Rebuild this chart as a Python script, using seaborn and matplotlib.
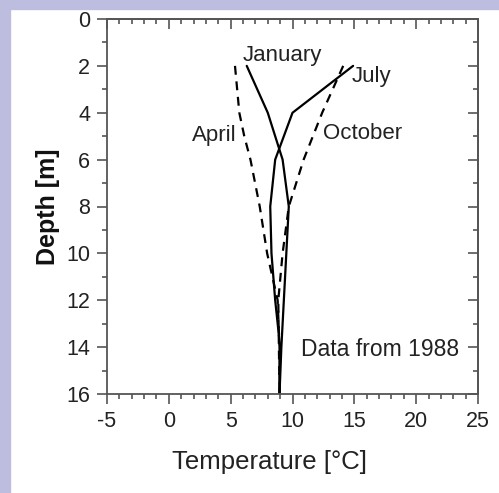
import numpy as np
import matplotlib
matplotlib.use("Agg")
import matplotlib.pyplot as plt
import matplotlib.ticker as ticker
from matplotlib.patches import Rectangle
import seaborn as sns
import pandas as pd

# depth profiles
depth = [2, 4, 6, 8, 10, 12, 14, 16]
january = [6.3, 8.0, 9.2, 9.7, 9.5, 9.3, 9.1, 8.95]
july = [14.9, 10.0, 8.6, 8.2, 8.3, 8.6, 9.0, 8.95]
october = [14.1, 12.4, 10.9, 9.7, 9.2, 8.85, 8.9, 8.95]
april_depth = [2, 4, 5, 6, 8, 10, 12, 14, 16]
april = [5.35, 5.7, 6.1, 6.6, 7.35, 7.95, 8.8, 8.95, 8.95]

labels = ["January", "July", "April", "October"]
label_x = [9.2, 16.4, 3.65, 15.65]
label_y = [1.55, 2.46, 4.95, 4.88]

sns.set_style("ticks")
plt.rcParams['font.family'] = ['Liberation Sans', 'DejaVu Sans']
plt.rcParams['axes.unicode_minus'] = False

fig = plt.figure(figsize=(4.99, 4.93), dpi=100)
fig.patches.append(Rectangle((0, 0), 10/499, 1, transform=fig.transFigure,
                             color="#bdbde0", zorder=-1))
fig.patches.append(Rectangle((0, 1-9/493), 1, 9/493, transform=fig.transFigure,
                             color="#bdbde0", zorder=-1))
ax = fig.add_axes([107/499, 99/493, 371/499, 375/493])

solid = pd.DataFrame({"t": january + july,
                      "d": depth + depth,
                      "m": ["January"]*len(depth) + ["July"]*len(depth)})
dashed = pd.DataFrame({"t": april + october,
                       "d": april_depth + depth,
                       "m": ["April"]*len(april_depth) + ["October"]*len(depth)})

sns.lineplot(data=solid, x="t", y="d", units="m", estimator=None, orient="y",
             color="black", lw=1.6, ax=ax)
sns.lineplot(data=dashed, x="t", y="d", units="m", estimator=None, orient="y",
             color="black", lw=1.6, ls=(0, (4, 3)), ax=ax)

for lab, lx, ly in zip(labels, label_x, label_y):
    ax.text(lx, ly, lab, ha="center", va="center", fontsize=16, color="#222")
ax.text(17.1, 14.12, "Data from 1988", ha="center", va="center",
        fontsize=16.5, color="#222")

ax.set_xlim(-5, 25)
ax.set_ylim(16, 0)
ax.xaxis.set_major_locator(ticker.MultipleLocator(5))
ax.xaxis.set_minor_locator(ticker.MultipleLocator(1))
ax.yaxis.set_major_locator(ticker.MultipleLocator(2))
ax.yaxis.set_minor_locator(ticker.MultipleLocator(1))
ax.tick_params(which="major", direction="out", length=7, width=1.2,
               color="#555", labelsize=15.5, labelcolor="#222", pad=5)
ax.tick_params(which="minor", direction="out", length=3.5, width=1.2, color="#555")

top = ax.secondary_xaxis("top")
top.xaxis.set_major_locator(ticker.MultipleLocator(5))
top.xaxis.set_minor_locator(ticker.MultipleLocator(1))
top.tick_params(which="major", direction="in", length=7, width=1.2, color="#555",
                labeltop=False)
top.tick_params(which="minor", direction="in", length=3.5, width=1.2, color="#555")
right = ax.secondary_yaxis("right")
right.yaxis.set_major_locator(ticker.MultipleLocator(2))
right.yaxis.set_minor_locator(ticker.MultipleLocator(1))
right.tick_params(which="major", direction="in", length=7, width=1.2, color="#555",
                  labelright=False)
right.tick_params(which="minor", direction="in", length=3.5, width=1.2, color="#555")
for a in (ax, top, right):
    for s in a.spines.values():
        s.set_color("#555")
        s.set_linewidth(1.3)

ax.set_xlabel("Temperature [°C]", fontsize=18.5, color="#222")
ax.set_ylabel("Depth [m]", fontsize=18, fontweight="bold", color="#111")
ax.xaxis.set_label_coords(163/371, -0.148)
ax.yaxis.set_label_coords(-0.127, 0.5)

fig.savefig("out.png", dpi=100)
